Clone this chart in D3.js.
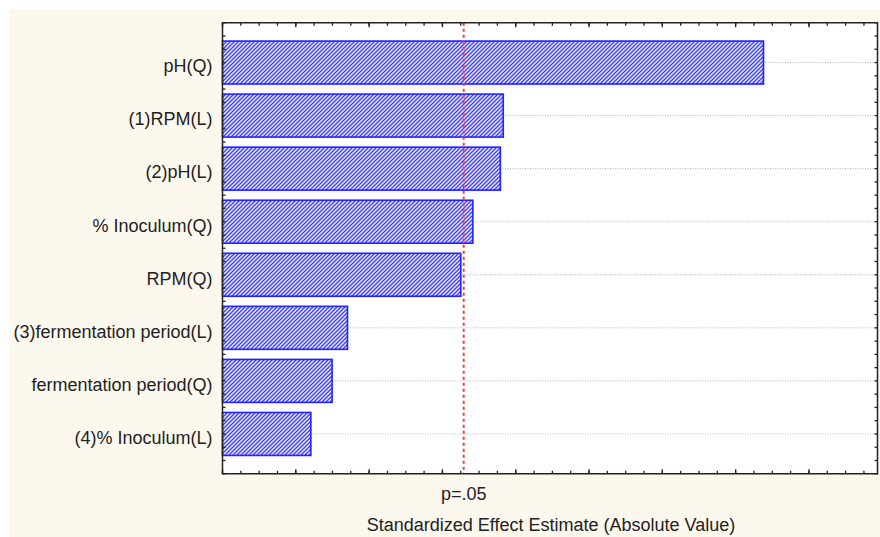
<!DOCTYPE html>
<html>
<head>
<meta charset="utf-8">
<script src="https://cdn.jsdelivr.net/npm/d3@7"></script>
<style>
  html, body { margin: 0; padding: 0; background: #ffffff; }
  svg { display: block; }
  text { font-family: Arial, "Liberation Sans", sans-serif; fill: #222; }
</style>
</head>
<body>
<svg id="chart" width="880" height="537"></svg>
<script>
// Pareto chart of standardized effects (absolute values), sorted largest first
const effects = [
  "pH(Q)",
  "(1)RPM(L)",
  "(2)pH(L)",
  "% Inoculum(Q)",
  "RPM(Q)",
  "(3)fermentation period(L)",
  "fermentation period(Q)",
  "(4)% Inoculum(L)"
];
const effectValues = [7.38, 3.83, 3.79, 3.415, 3.25, 1.705, 1.495, 1.205];
const criticalValue = 3.29;      // significance threshold, p = .05
const criticalLabel = "p=.05";
const xTitle = "Standardized Effect Estimate (Absolute Value)";
const xDomain = [0, 8.935];

const svg = d3.select("#chart");
const W = 880, H = 537;
const plot = { left: 222.5, right: 877.5, top: 22.75, bottom: 473.75 };

// page panel
svg.append("rect").attr("x", 9).attr("y", 9).attr("width", W - 9).attr("height", H - 9)
  .attr("fill", "#fdf8ee");
svg.append("rect").attr("x", plot.left).attr("y", plot.top)
  .attr("width", plot.right - plot.left).attr("height", plot.bottom - plot.top)
  .attr("fill", "#ffffff");

const x = d3.scaleLinear().domain(xDomain).range([plot.left, plot.right]);
// rows sit on integer positions; axis spans half a row beyond the ends plus a quarter
const y = d3.scaleLinear().domain([-0.75, effects.length - 0.25]).range([plot.top, plot.bottom]);
const halfBar = 0.405;

// hatch pattern for bars
const defs = svg.append("defs");
const pat = defs.append("pattern").attr("id", "hatch")
  .attr("patternUnits", "userSpaceOnUse").attr("width", 4).attr("height", 4);
pat.append("rect").attr("width", 4).attr("height", 4).attr("fill", "#f0f0ff");
pat.append("path").attr("d", "M-1,1 L1,-1 M0,4 L4,0 M3,5 L5,3")
  .attr("stroke", "#4444f6").attr("stroke-width", 1.5);

// dotted row guide lines
svg.append("g").selectAll("line").data(effects).join("line")
  .attr("x1", plot.left).attr("x2", plot.right)
  .attr("y1", (d, i) => y(i)).attr("y2", (d, i) => y(i))
  .attr("stroke", "#b4b4b4").attr("stroke-width", 1).attr("stroke-dasharray", "1,1.5");

// bars
svg.append("g").selectAll("rect").data(effectValues).join("rect")
  .attr("x", x(0))
  .attr("y", (d, i) => y(i - halfBar))
  .attr("width", d => x(d) - x(0))
  .attr("height", y(halfBar) - y(-halfBar))
  .attr("fill", "url(#hatch)")
  .attr("stroke", "#2222ff").attr("stroke-width", 1.6);

// significance line
svg.append("line")
  .attr("x1", x(criticalValue)).attr("x2", x(criticalValue))
  .attr("y1", plot.top).attr("y2", plot.bottom)
  .attr("stroke", "#ff3a3a").attr("stroke-width", 2).attr("stroke-dasharray", "3,3");

// axes with inward ticks
const xMinor = d3.range(0, xDomain[1], 0.25);
const xMajor = d3.range(0, xDomain[1], 1);
const yMinor = d3.range(-0.75, effects.length - 0.25 + 1e-6, 0.25);

function ticks(g, scale, values, len, orient) {
  g.selectAll(null).data(values).join("line")
    .attr("stroke", "#222").attr("stroke-width", 1.3)
    .each(function (v) {
      const s = d3.select(this), p = scale(v);
      if (orient === "bottom") s.attr("x1", p).attr("x2", p).attr("y1", plot.bottom).attr("y2", plot.bottom - len);
      if (orient === "top") s.attr("x1", p).attr("x2", p).attr("y1", plot.top).attr("y2", plot.top + len);
      if (orient === "left") s.attr("y1", p).attr("y2", p).attr("x1", plot.left).attr("x2", plot.left + len);
      if (orient === "right") s.attr("y1", p).attr("y2", p).attr("x1", plot.right).attr("x2", plot.right - len);
    });
}
const tg = svg.append("g");
ticks(tg, x, xMinor, 3, "bottom");
ticks(tg, x, xMajor, 4.5, "bottom");
ticks(tg, x, xMinor, 3, "top");
ticks(tg, x, xMajor, 4.5, "top");
ticks(tg, y, yMinor, 3, "left");
ticks(tg, y, yMinor, 3, "right");

// frame
svg.append("rect").attr("x", plot.left).attr("y", plot.top)
  .attr("width", plot.right - plot.left).attr("height", plot.bottom - plot.top)
  .attr("fill", "none").attr("stroke", "#222").attr("stroke-width", 1.5);

// category labels
svg.append("g").selectAll("text").data(effects).join("text")
  .attr("x", plot.left - 10).attr("y", (d, i) => y(i) + 3.5)
  .attr("dy", "0.35em").attr("text-anchor", "end")
  .attr("font-size", 18).text(d => d);

// p-value label and axis title
svg.append("text").attr("x", x(criticalValue)).attr("y", plot.bottom + 26.5)
  .attr("text-anchor", "middle").attr("font-size", 18).text(criticalLabel);
svg.append("text").attr("x", (plot.left + plot.right) / 2 + 1).attr("y", 531)
  .attr("text-anchor", "middle").attr("font-size", 18).text(xTitle);
</script>
</body>
</html>
